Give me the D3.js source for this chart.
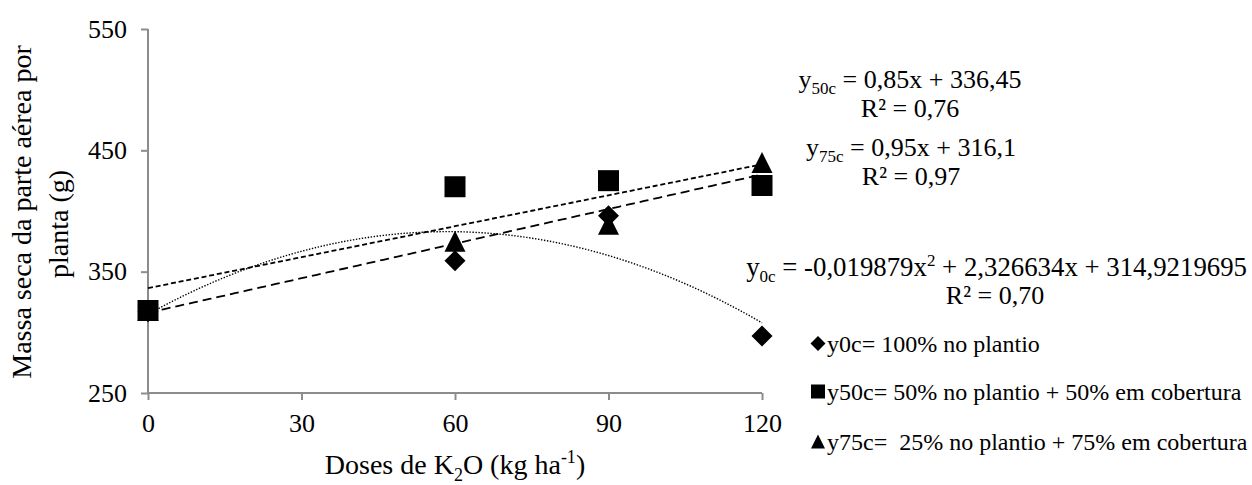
<!DOCTYPE html>
<html>
<head>
<meta charset="utf-8">
<script src="https://cdn.jsdelivr.net/npm/d3@7"></script>
<style>
  html, body { margin: 0; padding: 0; background: #fff; }
  svg { display: block; }
</style>
</head>
<body>
<svg id="chart" width="1252" height="485"></svg>
<script>
// Doses of K2O (kg/ha) and shoot dry mass per plant (g) for each split scheme
const doses = [0, 60, 90, 120];
const y0c  = [317, 359, 396, 297];
const y50c = [318, 420, 425, 421];
const y75c = [318, 375, 389, 440];

const xTicks = [0, 30, 60, 90, 120];
const yTicks = [250, 350, 450, 550];

// Fitted trend coefficients (intercept, linear, quadratic)
const fit0c  = [314.9219695, 2.326634, -0.019879];
const fit50c = [336.45, 0.85];
const fit75c = [316.1, 0.95];

const legendLabels = [
  "y0c= 100% no plantio",
  "y50c= 50% no plantio + 50% em cobertura",
  "y75c=  25% no plantio + 75% em cobertura"
];

const FONT = '"Liberation Serif", "Times New Roman", Times, serif';
const svg = d3.select("#chart");
const axisColor = "#8c8c8c";

const x = d3.scaleLinear().domain([0, 120]).range([148, 762]);
const y = d3.scaleLinear().domain([250, 550]).range([393, 29]);

function txt(sel, size) {
  return sel.attr("font-family", FONT).style("font-family", FONT)
    .style("font-size", size + "px").attr("fill", "#000");
}

// Axes
const yAxis = d3.axisLeft(y).tickValues(yTicks).tickSize(7).tickPadding(14);
const xAxis = d3.axisBottom(x).tickValues(xTicks).tickSize(7).tickPadding(14);

const gy = svg.append("g").attr("transform", `translate(${x(0)},0)`).call(yAxis);
const gx = svg.append("g").attr("transform", `translate(0,${y(250)})`).call(xAxis);

[gx, gy].forEach(g => {
  g.attr("font-family", FONT);
  g.select(".domain").attr("stroke", axisColor).attr("stroke-width", 2);
  g.selectAll(".tick line").attr("stroke", axisColor).attr("stroke-width", 2);
  txt(g.selectAll(".tick text"), 26);
});
gx.select(".domain").attr("d", `M${x(0)},0H${x(120)}`);
gy.select(".domain").attr("d", `M0,${y(250)}V${y(550)}`);

// Trend lines
const xs = d3.range(0, 120.5, 1);
const line = d3.line().x(d => x(d[0])).y(d => y(d[1]));
function poly(c, v) { return c.reduce((s, k, i) => s + k * Math.pow(v, i), 0); }

svg.append("path")
  .datum(xs.map(v => [v, poly(fit0c, v)]))
  .attr("d", line).attr("fill", "none").attr("stroke", "#000")
  .attr("stroke-width", 1.4).attr("stroke-dasharray", "1.4,1.6");
svg.append("path")
  .datum(xs.map(v => [v, poly(fit50c, v)]))
  .attr("d", line).attr("fill", "none").attr("stroke", "#000")
  .attr("stroke-width", 1.8).attr("stroke-dasharray", "5,2.8");
svg.append("path")
  .datum(xs.map(v => [v, poly(fit75c, v)]))
  .attr("d", line).attr("fill", "none").attr("stroke", "#000")
  .attr("stroke-width", 1.8).attr("stroke-dasharray", "9,5");

// Marker shapes, centred on their bounding box
function diamond(s) { const h = s / 2; return `M0,${-h}L${h},0L0,${h}L${-h},0Z`; }
function square(s) { const h = s / 2; return `M${-h},${-h}H${h}V${h}H${-h}Z`; }
function triangle(s) { const h = s / 2; return `M0,${-h}L${h},${h}L${-h},${h}Z`; }

const series = [
  { values: y0c,  shape: diamond,  size: 21 },
  { values: y75c, shape: triangle, size: 21 },
  { values: y50c, shape: square,   size: 21 }
];
series.forEach(s => {
  svg.append("g").selectAll("path")
    .data(doses.map((d, i) => [d, s.values[i]]))
    .join("path")
    .attr("transform", d => `translate(${x(d[0])},${y(d[1])})`)
    .attr("d", s.shape(s.size))
    .attr("fill", "#000");
});

// Axis titles
const yTitle = txt(svg.append("text"), 28)
  .attr("transform", "translate(31,212) rotate(-90)")
  .attr("text-anchor", "middle");
yTitle.append("tspan").attr("x", 0).attr("y", 0).text("Massa seca da parte aérea por");
yTitle.append("tspan").attr("x", -12).attr("y", 37).text("planta (g)");

const xTitle = txt(svg.append("text"), 28)
  .attr("x", 455).attr("y", 474)
  .attr("text-anchor", "middle");
xTitle.append("tspan").text("Doses de K");
xTitle.append("tspan").attr("dy", 7).style("font-size", "18px").text("2");
xTitle.append("tspan").attr("dy", -7).text("O (kg ha");
xTitle.append("tspan").attr("dy", -11).style("font-size", "18px").text("-1");
xTitle.append("tspan").attr("dy", 11).text(")");

// Equation labels
function equation(px, by, anchor, size, sub, rest, sup, tail) {
  const t = txt(svg.append("text"), size).attr("x", px).attr("y", by)
    .attr("text-anchor", anchor);
  t.append("tspan").text("y");
  t.append("tspan").attr("dy", 6).style("font-size", "17px").text(sub);
  t.append("tspan").attr("dy", -6).text(rest);
  if (sup) {
    t.append("tspan").attr("dy", -10).style("font-size", "17px").text(sup);
    t.append("tspan").attr("dy", 10).text(tail);
  }
}
function rsq(cx, by, label) {
  txt(svg.append("text"), 26).attr("x", cx).attr("y", by)
    .attr("text-anchor", "middle").text(label);
}
equation(910, 88, "middle", 26, "50c", " = 0,85x + 336,45");
rsq(910, 117, "R² = 0,76");
equation(911, 156, "middle", 26, "75c", " = 0,95x + 316,1");
rsq(911, 185, "R² = 0,97");
equation(1247, 276, "end", 26.8, "0c", " = -0,019879x", "2", " + 2,326634x + 314,9219695");
rsq(995, 304, "R² = 0,70");

// Legend
const legendShapes = [diamond, square, triangle];
const legendY = [352, 400, 450];
legendLabels.forEach((lab, i) => {
  svg.append("path")
    .attr("transform", `translate(818,${legendY[i] - 8.5})`)
    .attr("d", legendShapes[i](i === 0 ? 15 : 14))
    .attr("fill", "#000");
  txt(svg.append("text"), 24).attr("x", 827).attr("y", legendY[i])
    .attr("xml:space", "preserve").style("white-space", "pre").text(lab);
});
</script>
</body>
</html>
